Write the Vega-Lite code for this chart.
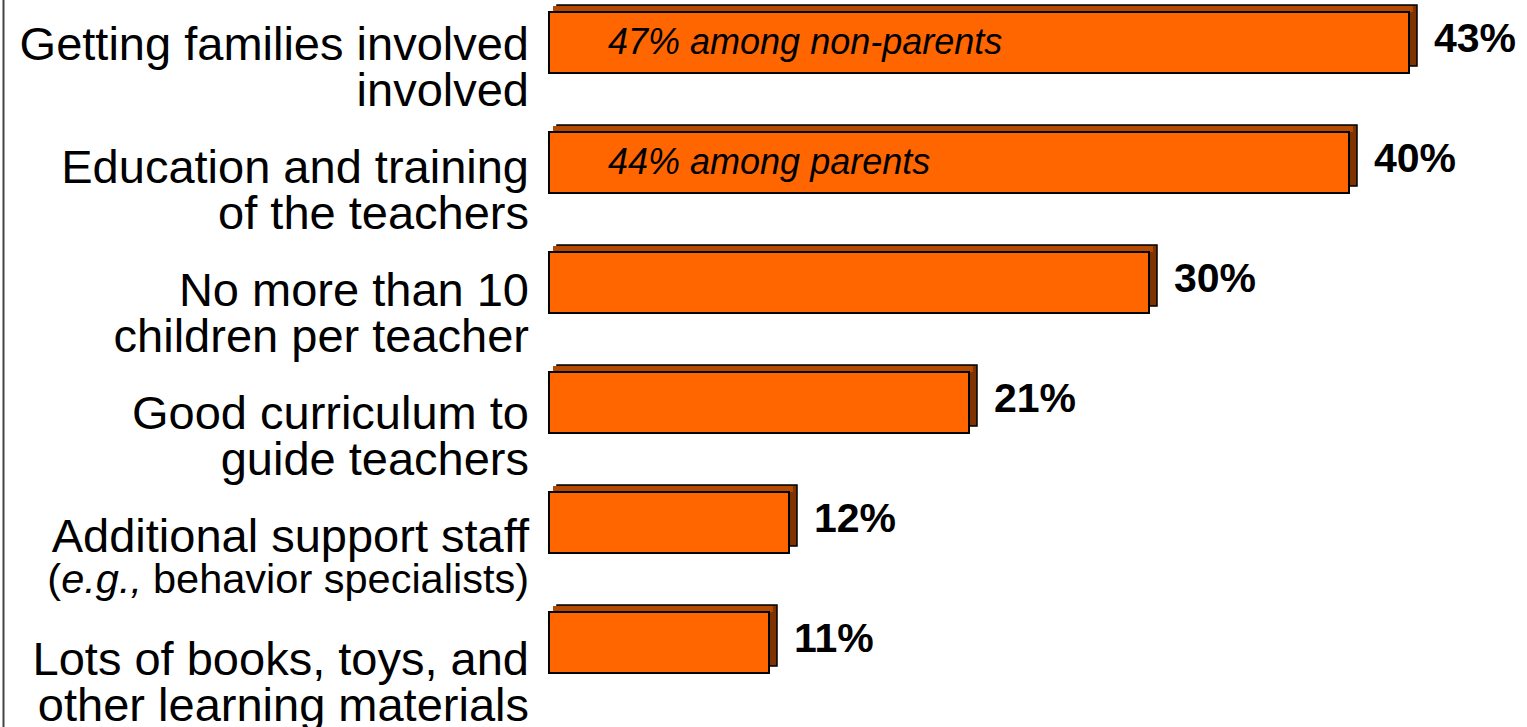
{
  "$schema": "https://vega.github.io/schema/vega-lite/v6.json",
  "width": 978,
  "height": 727,
  "autosize": "none",
  "padding": {"left": 549, "top": 0, "right": 0, "bottom": 0},
  "background": "white",
  "config": {"view": {"stroke": null}, "font": "Liberation Sans"},
  "data": {
    "values": [
      {"item": "Getting families involved", "label": "Getting families involved\ninvolved", "value": 43, "valueLabel": "43%", "note": "47% among non-parents"},
      {"item": "Education and training of the teachers", "label": "Education and training\nof the teachers", "value": 40, "valueLabel": "40%", "note": "44% among parents"},
      {"item": "No more than 10 children per teacher", "label": "No more than 10\nchildren per teacher", "value": 30, "valueLabel": "30%"},
      {"item": "Good curriculum to guide teachers", "label": "Good curriculum to\nguide teachers", "value": 21, "valueLabel": "21%"},
      {"item": "Additional support staff", "label": "Additional support staff", "value": 12, "valueLabel": "12%", "subOpen": "(", "subItalic": "e.g.,", "subRest": "behavior specialists)"},
      {"item": "Lots of books, toys, and other learning materials", "label": "Lots of books, toys, and\nother learning materials", "value": 11, "valueLabel": "11%"}
    ]
  },
  "resolve": {"scale": {"y": "independent"}, "axis": {"y": "independent"}},
  "layer": [
    {
      "encoding": {
        "y": {"field": "item", "type": "nominal", "sort": null,
              "scale": {"range": [-47.5, 732.5], "paddingInner": 0, "paddingOuter": 0.25},
              "axis": {"domain": true, "domainColor": "#444", "domainWidth": 2, "labels": false, "ticks": false, "title": null, "offset": 546, "grid": false}},
        "x": {"field": "value", "type": "quantitative", "scale": {"domain": [0, 48.9], "nice": false}, "axis": null}
      },
      "layer": [
        {"mark": {"type": "bar", "height": 61, "xOffset": 8, "yOffset": -7, "fill": "#7F3300", "stroke": "#000000", "strokeWidth": 1.5}},
        {"mark": {"type": "bar", "height": 6, "xOffset": 4, "yOffset": -33.5, "fill": "#B34A00", "strokeWidth": 0}},
        {"mark": {"type": "bar", "height": 61, "fill": "#FF6600", "stroke": "#000000", "strokeWidth": 2}},
        {"mark": {"type": "text", "align": "left", "baseline": "middle", "dx": 25, "yOffset": -2.5, "fontSize": 41, "fontWeight": "bold", "color": "#000000"},
         "encoding": {"text": {"field": "valueLabel"}}},
        {"transform": [{"filter": "isValid(datum.note)"}],
         "mark": {"type": "text", "align": "left", "baseline": "middle", "dx": 59, "fontSize": 36, "fontStyle": "italic", "color": "#000000"},
         "encoding": {"x": {"datum": 0}, "text": {"field": "note"}}}
      ]
    },
    {
      "encoding": {
        "y": {"field": "item", "type": "nominal", "sort": null,
              "scale": {"range": [-15.5, 722.5], "paddingInner": 0, "paddingOuter": 0},
              "axis": null},
        "x": {"datum": 0, "type": "quantitative", "scale": {"domain": [0, 48.9], "nice": false}}
      },
      "layer": [
        {"mark": {"type": "text", "align": "right", "baseline": "middle", "dx": -20, "fontSize": 47, "lineHeight": 46, "lineBreak": "\n", "color": "#000000"},
         "encoding": {"text": {"field": "label"}}},
        {"transform": [{"filter": "isValid(datum.subRest)"}],
         "mark": {"type": "text", "align": "right", "baseline": "middle", "dx": -20, "yOffset": 43, "fontSize": 41.5, "color": "#000000"},
         "encoding": {"text": {"field": "subRest"}}},
        {"transform": [{"filter": "isValid(datum.subItalic)"}],
         "mark": {"type": "text", "align": "right", "baseline": "middle", "dx": -407, "yOffset": 43, "fontSize": 41.5, "fontStyle": "italic", "color": "#000000"},
         "encoding": {"text": {"field": "subItalic"}}},
        {"transform": [{"filter": "isValid(datum.subOpen)"}],
         "mark": {"type": "text", "align": "right", "baseline": "middle", "dx": -488, "yOffset": 43, "fontSize": 41.5, "color": "#000000"},
         "encoding": {"text": {"field": "subOpen"}}}
      ]
    }
  ]
}
